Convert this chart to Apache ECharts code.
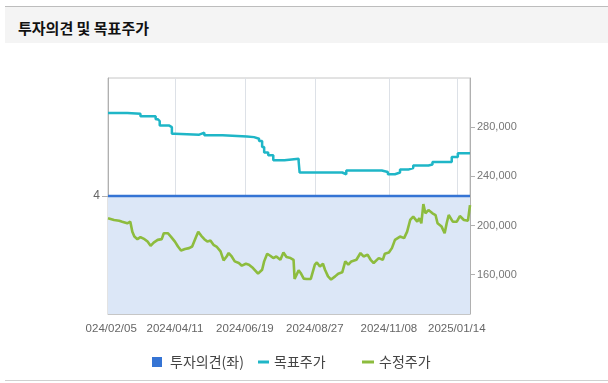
<!DOCTYPE html>
<html>
<head>
<meta charset="utf-8">
<script src="https://cdn.jsdelivr.net/npm/echarts@6/dist/echarts.min.js"></script>
<style>
html,body{margin:0;padding:0;background:#fff;width:608px;height:383px;overflow:hidden;position:relative;}
#hdr{position:absolute;left:5px;top:6px;width:603px;height:37px;background:#f4f4f4;border-top:1px solid #bdbdbd;box-sizing:border-box;}
#hdr span{position:absolute;left:13px;top:0;line-height:41px;font-family:'Noto Sans CJK KR',sans-serif;font-size:15px;font-weight:bold;color:#111;}
#chart{position:absolute;left:85px;top:44px;width:523px;height:335px;}
#foot{position:absolute;left:5px;top:380px;width:603px;height:1px;background:#d0d0d0;}
</style>
</head>
<body>
<div id="hdr"><span>투자의견 및 목표주가</span></div>
<div id="chart"></div>
<div id="foot"></div>
<script>
// ---- data ----
const xStart = '2024-02-05';
const xEnd = '2025-01-27';
const xTickLabels = ['2024-02-05','2024-04-11','2024-06-19','2024-08-27','2024-11-08','2025-01-14'];
const leftTicks = [4];
const rightTicks = [160000, 200000, 240000, 280000];

const opinionDates = ['2024-02-05','2025-01-27'];
const opinionValues = [4, 4];

const targetDates = ['2024-02-05','2024-02-24','2024-03-08','2024-03-23','2024-03-25','2024-03-27','2024-04-05','2024-04-08','2024-04-11','2024-05-05','2024-05-10','2024-05-28','2024-06-21','2024-06-28','2024-07-03','2024-07-06','2024-07-08','2024-07-12','2024-07-17','2024-07-28','2024-08-11','2024-08-12','2024-09-23','2024-09-27','2024-11-01','2024-11-07','2024-11-14','2024-11-19','2024-11-27','2024-12-02','2024-12-17','2024-12-21','2025-01-09','2025-01-15','2025-01-27'];
const targetValues = [291600,290900,288900,286500,284900,281400,280000,274700,273900,275500,273500,272500,271900,270600,268700,263800,259300,257100,253100,254400,252200,243100,241700,244700,243600,241700,243100,245500,246800,248800,249600,251700,255700,258700,258700];

const priceDates = ['2024-02-05','2024-02-11','2024-02-16','2024-02-19','2024-02-24','2024-02-27','2024-02-29','2024-03-02','2024-03-05','2024-03-08','2024-03-12','2024-03-15','2024-03-18','2024-03-21','2024-03-25','2024-03-29','2024-03-31','2024-04-04','2024-04-07','2024-04-11','2024-04-14','2024-04-17','2024-04-21','2024-04-25','2024-04-28','2024-05-02','2024-05-04','2024-05-07','2024-05-10','2024-05-13','2024-05-16','2024-05-19','2024-05-22','2024-05-26','2024-05-29','2024-06-01','2024-06-03','2024-06-06','2024-06-09','2024-06-13','2024-06-16','2024-06-20','2024-06-23','2024-06-27','2024-07-02','2024-07-06','2024-07-08','2024-07-11','2024-07-14','2024-07-17','2024-07-20','2024-07-24','2024-07-27','2024-07-30','2024-08-03','2024-08-06','2024-08-07','2024-08-11','2024-08-13','2024-08-16','2024-08-19','2024-08-23','2024-08-27','2024-08-29','2024-09-01','2024-09-04','2024-09-06','2024-09-09','2024-09-12','2024-09-16','2024-09-19','2024-09-23','2024-09-26','2024-09-29','2024-10-02','2024-10-07','2024-10-11','2024-10-14','2024-10-18','2024-10-21','2024-10-24','2024-10-29','2024-11-02','2024-11-04','2024-11-08','2024-11-11','2024-11-14','2024-11-19','2024-11-23','2024-11-26','2024-11-29','2024-12-02','2024-12-06','2024-12-08','2024-12-10','2024-12-12','2024-12-14','2024-12-17','2024-12-21','2024-12-24','2024-12-26','2024-12-30','2025-01-02','2025-01-04','2025-01-06','2025-01-10','2025-01-14','2025-01-17','2025-01-21','2025-01-25','2025-01-27'];
const priceValues = [205900,204500,203900,203100,201800,203100,195000,191000,188900,190500,188900,186900,183500,186100,188300,188900,193700,193700,191000,186900,182900,179700,180800,181600,182900,191000,195000,191600,188900,186900,187800,184300,182900,178900,171600,174800,177600,174800,170800,169500,167300,168900,168100,165400,160800,164000,170800,177000,175400,173500,174800,172100,178000,174300,173500,172100,156500,163500,161400,156800,156500,156500,168100,169900,166700,168900,164000,158600,156000,158600,160800,161900,170800,168100,170800,172100,177600,174800,176200,172100,169500,173500,172100,177000,178000,181600,188300,191000,189700,195000,204500,207200,203100,205900,201800,217400,209900,212600,209900,208500,201800,199100,193700,201800,208500,203100,203100,207700,204500,203900,216600];

const seriesNames = ['투자의견(좌)', '목표주가', '수정주가'];
const seriesColors = ['#3574d4', '#1fb6c7', '#8dbc3e'];

// ---- build ----
const P = s => echarts.number.parseDate(s).getTime();
const zip = (d, v) => d.map((x, i) => [P(x), v[i]]);
const chart = echarts.init(document.getElementById('chart'), null, {renderer: 'canvas'});
const numFont = "'Liberation Sans', Arial, sans-serif";
const korFont = "'Noto Sans CJK KR', sans-serif";
const legendBase = {
  top: 306, itemGap: 0, icon: 'rect',
  textStyle: {fontFamily: korFont, fontSize: 14, color: '#444'},
  selectedMode: false
};
chart.setOption({
  animation: false,
  textStyle: {fontFamily: numFont},
  grid: {left: 23, right: 138, top: 34, bottom: 65, show: true, borderColor: '#c6c6c6', borderWidth: 1,
         backgroundColor: 'transparent', outerBoundsMode: 'none', containLabel: false},
  xAxis: {
    type: 'time', min: P(xStart), max: P(xEnd),
    axisLine: {show: true, lineStyle: {color: '#c6c6c6'}},
    axisTick: {show: false},
    splitLine: {show: false},
    axisLabel: {customValues: xTickLabels.map(P), formatter: '{yyyy}/{MM}/{dd}', color: '#666', fontSize: 11.5, margin: 9, hideOverlap: false}
  },
  yAxis: [
    {type: 'value', position: 'left', min: 0, max: 8,
     axisLine: {show: true, lineStyle: {color: '#b0b0b0'}},
     axisTick: {show: true, customValues: leftTicks, length: 6, lineStyle: {color: '#b0b0b0'}},
     axisLabel: {customValues: leftTicks, color: '#666', fontSize: 12, margin: 8},
     splitLine: {show: false}},
    {type: 'value', position: 'right', min: 128000, max: 320000,
     axisLine: {show: true, lineStyle: {color: '#b0b0b0'}},
     axisTick: {show: true, customValues: rightTicks, length: 5, lineStyle: {color: '#b0b0b0'}},
     axisLabel: {customValues: rightTicks, formatter: v => v.toLocaleString('en-US'), color: '#777', fontSize: 11, margin: 7},
     splitLine: {show: false}}
  ],
  legend: [
    Object.assign({}, legendBase, {left: 62, data: [seriesNames[0]], itemWidth: 10, itemHeight: 10,
      textStyle: Object.assign({}, legendBase.textStyle, {padding: [0, 0, 0, 3]})}),
    Object.assign({}, legendBase, {left: 168, data: [seriesNames[1]], itemWidth: 11, itemHeight: 3}),
    Object.assign({}, legendBase, {left: 272, data: [seriesNames[2]], itemWidth: 12, itemHeight: 3})
  ],
  series: [
    {name: seriesNames[0], type: 'line', yAxisIndex: 0, data: zip(opinionDates, opinionValues),
     symbol: 'none', itemStyle: {color: seriesColors[0]}, lineStyle: {width: 2.5, color: seriesColors[0]},
     areaStyle: {color: '#dce7f7', opacity: 1}, z: 1,
     markLine: {silent: true, symbol: 'none', label: {show: false}, z: 1,
       lineStyle: {color: '#dde1e7', width: 1, type: 'solid'},
       data: xTickLabels.slice(1).map(d => ({xAxis: P(d)}))}},
    {name: seriesNames[2], type: 'line', yAxisIndex: 1, data: zip(priceDates, priceValues),
     symbol: 'none', itemStyle: {color: seriesColors[2]}, lineStyle: {width: 2.6, color: seriesColors[2]}, z: 3},
    {name: seriesNames[1], type: 'line', yAxisIndex: 1, data: zip(targetDates, targetValues),
     symbol: 'none', step: 'end', itemStyle: {color: seriesColors[1]}, lineStyle: {width: 2.5, color: seriesColors[1]}, z: 4}
  ]
});
</script>
</body>
</html>
